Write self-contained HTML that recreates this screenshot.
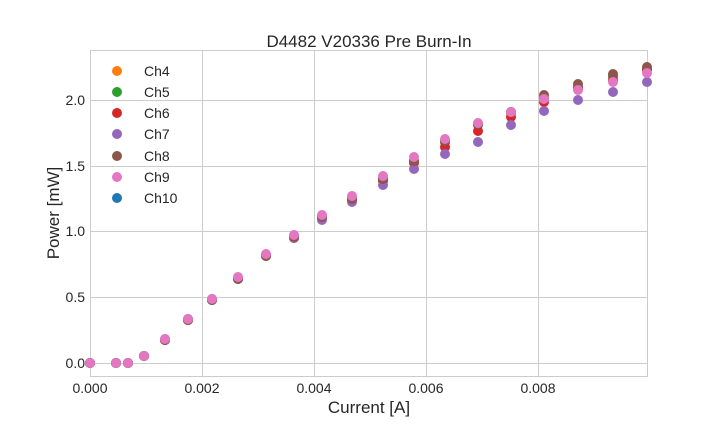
<!DOCTYPE html>
<html><head><meta charset="utf-8"><style>
body{margin:0;background:#fff;}
svg{display:block;font-family:"Liberation Sans",sans-serif;}
</style></head><body>
<svg id="s" width="720" height="432" xmlns="http://www.w3.org/2000/svg">
<rect width="720" height="432" fill="#fff"/>
<g stroke="#cccccc" stroke-width="1">
<line x1="90.5" y1="50" x2="90.5" y2="377"/>
<line x1="202.5" y1="50" x2="202.5" y2="377"/>
<line x1="314.5" y1="50" x2="314.5" y2="377"/>
<line x1="426.5" y1="50" x2="426.5" y2="377"/>
<line x1="538.5" y1="50" x2="538.5" y2="377"/>
<line x1="90" y1="363.5" x2="648" y2="363.5"/>
<line x1="90" y1="297.5" x2="648" y2="297.5"/>
<line x1="90" y1="231.5" x2="648" y2="231.5"/>
<line x1="90" y1="166.5" x2="648" y2="166.5"/>
<line x1="90" y1="100.5" x2="648" y2="100.5"/>
</g>
<rect x="90.5" y="50.5" width="557" height="326" fill="none" stroke="#cccccc"/>
<g id="pts"></g>
<g font-size="14" fill="#262626" text-anchor="middle">
<text x="90" y="393">0.000</text><text x="202" y="393">0.002</text><text x="314" y="393">0.004</text><text x="426" y="393">0.006</text><text x="538" y="393">0.008</text>
</g>
<g font-size="14" fill="#262626" text-anchor="end">
<text x="85" y="368">0.0</text><text x="85" y="302">0.5</text><text x="85" y="236">1.0</text><text x="85" y="171">1.5</text><text x="85" y="105">2.0</text>
</g>
<text x="369" y="47" font-size="17" fill="#262626" text-anchor="middle">D4482 V20336 Pre Burn-In</text>
<text x="369" y="413" font-size="17" fill="#262626" text-anchor="middle">Current [A]</text>
<text x="59" y="213" font-size="17" fill="#262626" text-anchor="middle" transform="rotate(-90 59 213)">Power [mW]</text>
<g font-size="14" fill="#262626">
<circle cx="117" cy="71" r="5" fill="#ff7f0e"/><text x="144" y="76">Ch4</text>
<circle cx="117" cy="92" r="5" fill="#2ca02c"/><text x="144" y="97">Ch5</text>
<circle cx="117" cy="113" r="5" fill="#d62728"/><text x="144" y="118">Ch6</text>
<circle cx="117" cy="134" r="5" fill="#9467bd"/><text x="144" y="139">Ch7</text>
<circle cx="117" cy="156" r="5" fill="#8c564b"/><text x="144" y="161">Ch8</text>
<circle cx="117" cy="177" r="5" fill="#e377c2"/><text x="144" y="182">Ch9</text>
<circle cx="117" cy="198" r="5" fill="#1f77b4"/><text x="144" y="203">Ch10</text>
</g>
</svg>
<script>
var xs=[90,116,128,144,165,188,212,238,266,294,322,352,383,414,445,478,511,544,578,613,647];
var pk=[363,363,363,356,339,319,299,277,254,235,215,196,176,157,139,123,112,99,90,82,73];
var pu=[0,0,0,0,0,0,0,1,1,3,5,6,9,12,15,19,13,12,10,10,9];
var rd=[0,0,0,0,1,1,1,2,2,3,3,4,5,6,8,8,5,3,-2,-2,-3];
var br=[0,0,0,0,1,1,1,2,2,2,2,3,3,4,2,1,0,-4,-6,-8,-6];
var gr=[0,0,0,0,1,1,1,1,1,1,1,2,2,4,3,2,0,-1,-3,-6,-4];
var or=[0,0,0,0,1,1,1,1,1,2,2,2,3,4,3,1,1,-1,-3,-5,-4];
var series=[["#ff7f0e",or],["#2ca02c",gr],["#d62728",rd],["#9467bd",pu],["#8c564b",br],["#e377c2",null]];
var g=document.getElementById("pts"),h="";
series.forEach(function(s){for(var i=0;i<xs.length;i++){var y=pk[i]+(s[1]?s[1][i]:0);h+='<circle cx="'+xs[i]+'" cy="'+y+'" r="5" fill="'+s[0]+'"/>';}});
g.innerHTML=h;
</script>
</body></html>
